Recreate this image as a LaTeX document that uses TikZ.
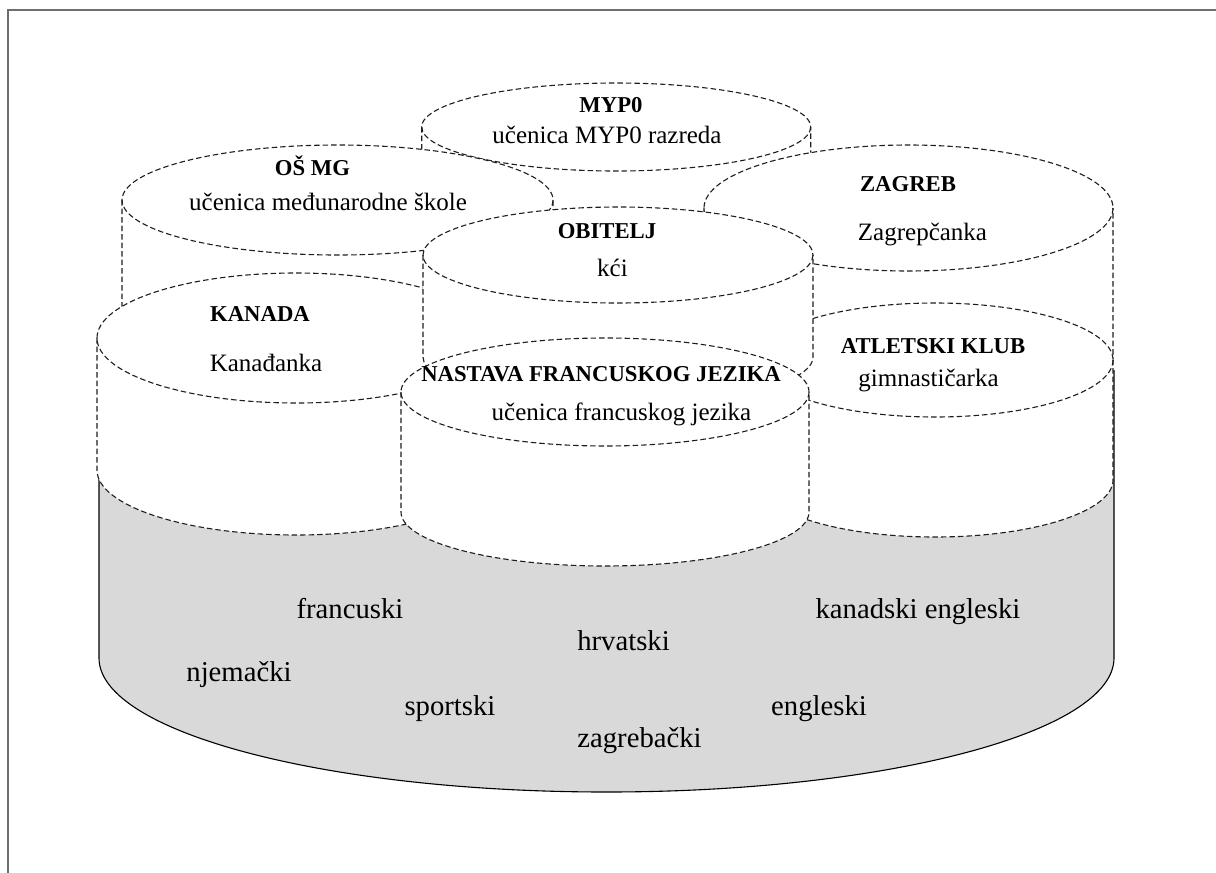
\documentclass[tikz,border=0pt]{standalone}
\usepackage{fontspec}
\setmainfont{Liberation Serif}
\definecolor{basegrey}{RGB}{217,217,217}
\definecolor{framegrey}{RGB}{110,110,110}
\definecolor{edgeink}{RGB}{30,30,30}
\tikzset{
  cyledge/.style={draw=edgeink, line width=1.1pt, dash pattern=on 5.5pt off 3pt},
  baseedge/.style={draw=black, line width=1.1pt},
  framestyle/.style={draw=framegrey, line width=1.6pt},
  title/.style={anchor=base, inner sep=0pt, font=\fontsize{22.7}{27}\selectfont\bfseries},
  role/.style={anchor=base, inner sep=0pt, font=\fontsize{25}{30}\selectfont},
  lang/.style={anchor=base, inner sep=0pt, font=\fontsize{28.7}{34}\selectfont},
}
% one white, dashed cylinder: centre x, centre y of the top, x radius, y radius, height
\newcommand\drawcyl[5]{%
  \fill[white] (#1-#3,#2) -- (#1-#3,#2+#5)
    arc[start angle=180, end angle=0, x radius=#3, y radius=#4]
    -- (#1+#3,#2)
    arc[start angle=0, end angle=-180, x radius=#3, y radius=#4] -- cycle;
  \draw[cyledge] (#1-#3,#2) -- (#1-#3,#2+#5)
    arc[start angle=180, end angle=0, x radius=#3, y radius=#4]
    -- (#1+#3,#2);
  \draw[cyledge] (#1,#2) ellipse[x radius=#3, y radius=#4];
}
\begin{document}
\begin{tikzpicture}[x=1pt, y=-1pt]
\useasboundingbox (0,0) rectangle (1216,873);

% page frame
\draw[framestyle] (8,873) -- (8,10) -- (1216,10);

% grey base cylinder (its top is hidden under the white cylinders)
\fill[basegrey] (99,370) -- (99,658)
  arc[start angle=180, end angle=0, x radius=507.5, y radius=134]
  -- (1114,370) -- cycle;
\draw[baseedge] (99,370) -- (99,658)
  arc[start angle=180, end angle=0, x radius=507.5, y radius=134]
  -- (1114,370);

% MYP0
\drawcyl{616.2}{127}{194.5}{44}{80}
\node[title] (myptitle) at (611,112) {MYP0};
\node[role] (myprole) at (607,143) {učenica MYP0 razreda};

% OŠ MG
\drawcyl{337.5}{200}{215.5}{55}{120}
\node[title] (osmgtitle) at (312.5,175) {OŠ MG};
\node[role] (osmgrole) at (328,210) {učenica međunarodne škole};

% ZAGREB
\drawcyl{908.5}{208}{204.5}{63}{150}
\node[title] (zgtitle) at (908,191.5) {ZAGREB};
\node[role] (zgrole) at (922.5,240) {Zagrepčanka};

% KANADA
\drawcyl{296}{338}{199}{65}{132}
\node[title] (kantitle) at (260,321.5) {KANADA};
\node[role] (kanrole) at (266,371.5) {Kanađanka};

% ATLETSKI KLUB
\drawcyl{935}{360}{178}{57}{120}
\node[title] (akltitle) at (933,353) {ATLETSKI KLUB};
\node[role] (aklrole) at (928.5,386.5) {gimnastičarka};

% OBITELJ
\drawcyl{618}{255}{195}{48}{102}
\node[title] (obtitle) at (607,238) {OBITELJ};
\node[role] (obrole) at (612.5,276) {kći};

% NASTAVA FRANCUSKOG JEZIKA
\drawcyl{605}{392}{204}{54}{120}
\node[title] (nfjtitle) at (601,381.5) {NASTAVA FRANCUSKOG JEZIKA};
\node[role] (nfjrole) at (621.5,420) {učenica francuskog jezika};

% languages on the base
\node[lang] (fr) at (350,618) {francuski};
\node[lang] (kaneng) at (918,618) {kanadski engleski};
\node[lang] (hr) at (623.5,650) {hrvatski};
\node[lang] (de) at (239,681) {njemački};
\node[lang] (sp) at (450,715) {sportski};
\node[lang] (en) at (819,715) {engleski};
\node[lang] (zg) at (639.5,747) {zagrebački};
\end{tikzpicture}
\end{document}
